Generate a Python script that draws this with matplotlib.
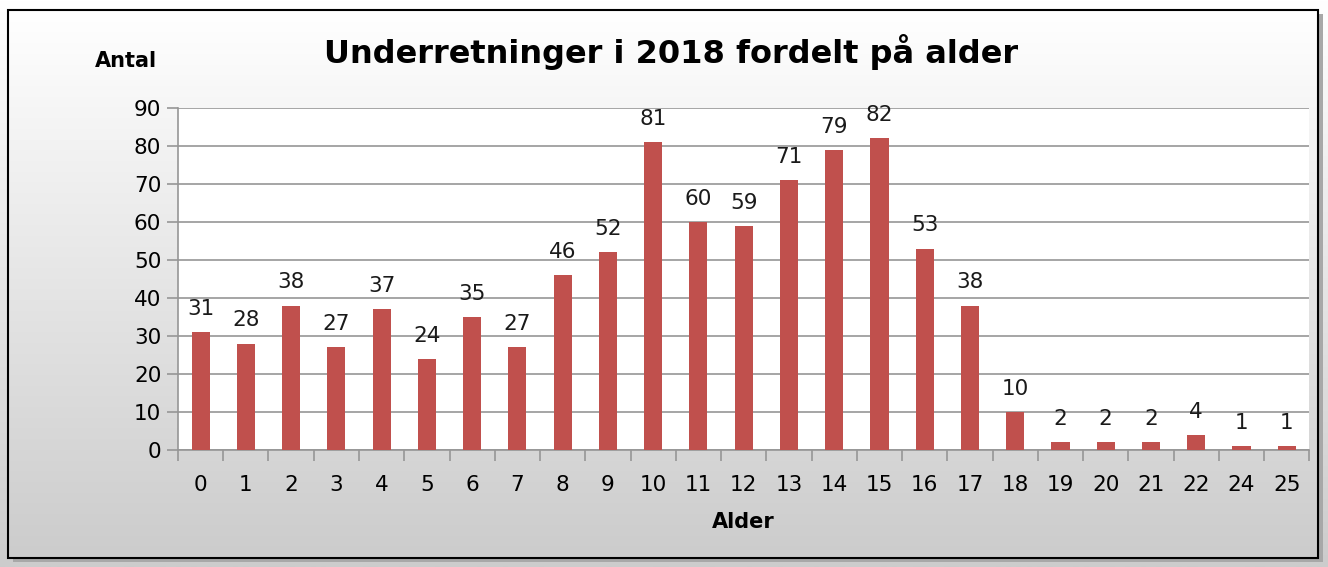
import matplotlib
matplotlib.use("Agg")
import matplotlib.pyplot as plt
import numpy as np
from matplotlib.patches import Rectangle

ages = ['0', '1', '2', '3', '4', '5', '6', '7', '8', '9', '10', '11', '12',
        '13', '14', '15', '16', '17', '18', '19', '20', '21', '22', '24', '25']
counts = [31, 28, 38, 27, 37, 24, 35, 27, 46, 52, 81, 60, 59,
          71, 79, 82, 53, 38, 10, 2, 2, 2, 4, 1, 1]

fig = plt.figure(figsize=(13.28, 5.67), dpi=100)

# gradient background inside frame
bg = fig.add_axes([0, 0, 1, 1], zorder=-10)
grad = np.linspace(1.0, 0.80, 256).reshape(-1, 1)
bg.imshow(np.dstack([grad, grad, grad]), aspect='auto', extent=[0, 1, 0, 1])
bg.axis('off')
# shadow and frame
x0, y0, x1, y1 = 8 / 1328, 1 - 558 / 567, 1318 / 1328, 1 - 10 / 567
bg.add_patch(Rectangle((x0 + 0.004, y0 - 0.007), x1 - x0, y1 - y0,
                       facecolor='#a8a8a8', edgecolor='none', zorder=1))
bg.imshow(np.dstack([grad, grad, grad]), aspect='auto',
          extent=[x0, x1, y0, y1], zorder=2)
bg.add_patch(Rectangle((x0, y0), x1 - x0, y1 - y0, facecolor='none',
                       edgecolor='black', lw=1.5, zorder=3))
bg.set_xlim(0, 1)
bg.set_ylim(0, 1)

ax = fig.add_axes([0.134, 0.2063, 0.852, 0.6032])
ax.set_facecolor('white')
x = np.arange(len(ages))
ax.bar(x, counts, width=0.4, color='#c0504d', zorder=3)
for xi, v in zip(x, counts):
    ax.text(xi, v + 3.5, str(v), ha='center', va='bottom', fontsize=15.5, color='#1a1a1a')

ax.set_xlim(-0.5, len(ages) - 0.5)
ax.set_ylim(0, 90)
ax.set_yticks(range(0, 91, 10))
ax.set_xticks(x)
ax.set_xticklabels(ages)
ax.set_xticks(np.arange(-0.5, len(ages), 1), minor=True)
ax.tick_params(axis='x', which='major', length=0, labelsize=15.5, pad=18)
ax.tick_params(axis='x', which='minor', length=8, color='#969696', width=1.2)
ax.tick_params(axis='y', length=8, color='#969696', width=1.2, labelsize=15.5, pad=4)
ax.grid(axis='y', color='#969696', lw=1.2, zorder=0)
for s in ['top', 'right']:
    ax.spines[s].set_visible(False)
for s in ['left', 'bottom']:
    ax.spines[s].set_color('#969696')
    ax.spines[s].set_linewidth(1.2)

ax.set_xlabel('Alder', fontsize=15, fontweight='bold', labelpad=12)
fig.text(0.095, 0.893, 'Antal', fontsize=15, fontweight='bold', va='center', ha='center')
fig.text(0.505, 0.908, 'Underretninger i 2018 fordelt på alder', fontsize=23,
         fontweight='bold', ha='center', va='center')

fig.savefig('out.png', dpi=100)
